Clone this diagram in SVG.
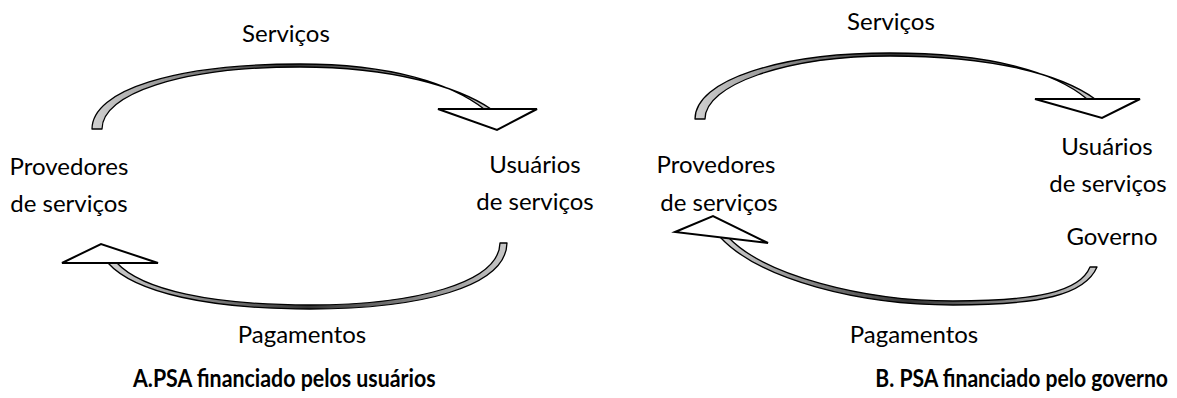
<svg xmlns="http://www.w3.org/2000/svg" width="1177" height="398" viewBox="0 0 1177 398">
<style>
text{font-family:Lato,"Open Sans","Liberation Sans",sans-serif;font-size:24px;fill:#000}
.t{font-weight:bold;font-size:24px}
.band{fill:url(#bg);stroke:#000;stroke-width:1.3;stroke-linejoin:round}
.head{fill:#fff;stroke:#000;stroke-width:2;stroke-linejoin:miter}
</style>
<defs>
<linearGradient id="bg" x1="0" y1="0" x2="1" y2="0">
<stop offset="0" stop-color="#d0d0d0"/>
<stop offset="0.5" stop-color="#333"/>
<stop offset="1" stop-color="#c8c8c8"/>
</linearGradient>
</defs>
<rect width="1177" height="398" fill="#fff"/>
<g id="connectors">
<path class="band" d="M92,129 C92,90 175,64 300,64 C392,64 452,84 484,109 L491,109 C458,87 394,67 300,67 C180,67 102,94 102,129 Z"/>
<polygon class="head" points="438,109 537,109 497,130"/>
<path class="band" d="M507,243 C506,287 420,309 310,309 C210,309 135,293 108,263 L117,263 C142,290 212,305 310,305 C415,305 499,283 500,243 Z"/>
<polygon class="head" points="62,263 158,263 101,244"/>
<path class="band" d="M695,119 C695,80 780,53 890,53 C990,53 1055,72 1087,99 L1095,99 C1062,75 995,56 890,56 C785,56 705,85 705,119 Z"/>
<polygon class="head" points="1035,99 1140,99 1102,118"/>
<path class="band" d="M1097,267 C1085,295 1040,305 953,305 C860,305 760,280 720,237 L729,238 C765,275 862,301 953,301 C1035,301 1080,292 1090,267 Z"/>
<polygon class="head" points="675,232 713,216 768,243"/>
</g>
<g id="labels">
<text x="286" y="42" text-anchor="middle">Serviços</text>
<text x="302" y="343" text-anchor="middle">Pagamentos</text>
<text x="891" y="30" text-anchor="middle">Serviços</text>
<text x="914" y="343" text-anchor="middle">Pagamentos</text>
</g>
<g id="node-provedores-a">
<text x="69" y="175" text-anchor="middle">Provedores</text>
<text x="69" y="212" text-anchor="middle">de serviços</text>
</g>
<g id="node-usuarios-a">
<text x="535" y="173" text-anchor="middle">Usuários</text>
<text x="535" y="210" text-anchor="middle">de serviços</text>
</g>
<g id="node-provedores-b">
<text x="716" y="173" text-anchor="middle">Provedores</text>
<text x="719" y="211" text-anchor="middle">de serviços</text>
</g>
<g id="node-usuarios-b">
<text x="1107" y="155" text-anchor="middle">Usuários</text>
<text x="1108" y="192" text-anchor="middle">de serviços</text>
</g>
<g id="node-governo">
<text x="1112" y="245" text-anchor="middle">Governo</text>
</g>
<g id="titles">
<text class="t" transform="translate(133,387) scale(0.89,1)">A.PSA financiado pelos usuários</text>
<text class="t" text-anchor="end" transform="translate(1168,387) scale(0.88,1)">B. PSA financiado pelo governo</text>
</g>
</svg>
